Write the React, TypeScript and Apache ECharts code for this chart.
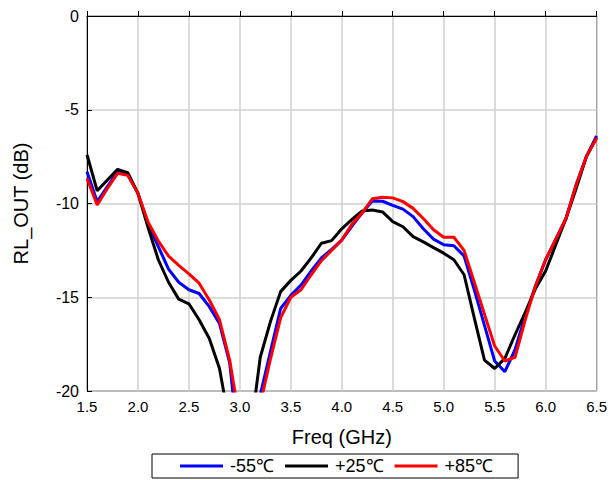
import React, { useEffect, useRef } from "react";
import * as echarts from "echarts";

const freq = [1.5, 1.6, 1.7, 1.8, 1.9, 2.0, 2.1, 2.2, 2.3, 2.4, 2.5, 2.6, 2.7, 2.8, 2.9, 3.0, 3.1, 3.2, 3.3, 3.4, 3.5, 3.6, 3.7, 3.8, 3.9, 4.0, 4.1, 4.2, 4.3, 4.4, 4.5, 4.6, 4.7, 4.8, 4.9, 5.0, 5.1, 5.2, 5.3, 5.4, 5.5, 5.6, 5.7, 5.8, 5.9, 6.0, 6.1, 6.2, 6.3, 6.4, 6.5];

const rlM55 = [-8.3, -9.9, -9.1, -8.3, -8.45, -9.46, -11.1, -12.3, -13.5, -14.2, -14.6, -14.8, -15.5, -16.4, -18.5, -23.5, -23.0, -20.2, -17.9, -15.6, -14.9, -14.35, -13.6, -12.9, -12.45, -11.95, -11.2, -10.5, -9.87, -9.88, -10.1, -10.3, -10.7, -11.35, -11.9, -12.2, -12.25, -12.8, -14.6, -16.5, -18.4, -18.97, -17.8, -16.0, -14.4, -13.0, -11.9, -10.8, -9.0, -7.5, -6.4];

const rlP25 = [-7.4, -9.32, -8.75, -8.18, -8.36, -9.46, -11.3, -13.0, -14.2, -15.1, -15.35, -16.2, -17.2, -18.8, -21.8, -24.0, -22.4, -18.2, -16.3, -14.7, -14.1, -13.6, -12.9, -12.12, -11.98, -11.35, -10.85, -10.4, -10.35, -10.45, -10.97, -11.24, -11.77, -12.05, -12.35, -12.65, -13.0, -13.8, -16.1, -18.35, -18.8, -18.26, -17.0, -15.8, -14.55, -13.6, -12.2, -10.8, -9.2, -7.5, -6.5];

const rlP85 = [-8.66, -10.08, -9.2, -8.39, -8.5, -9.46, -11.0, -12.0, -12.8, -13.3, -13.75, -14.25, -15.15, -16.2, -18.35, -21.65, -23.0, -20.7, -18.3, -16.1, -15.0, -14.6, -13.8, -13.05, -12.5, -11.95, -11.1, -10.5, -9.75, -9.67, -9.7, -9.9, -10.26, -10.8, -11.4, -11.8, -11.8, -12.5, -14.2, -15.9, -17.6, -18.4, -18.2, -16.2, -14.4, -13.0, -11.9, -10.8, -9.0, -7.5, -6.5];

const seriesNames = ["-55℃", "+25℃", "+85℃"];
const seriesColors = ["#0000ff", "#000000", "#ff0000"];
const seriesValues = [rlM55, rlP25, rlP85];

const FONT = "Liberation Sans, Arial, sans-serif";

export default function App() {
  const ref = useRef<HTMLDivElement>(null);
  useEffect(() => {
    if (!ref.current) return;
    const chart = echarts.init(ref.current, null, { renderer: "svg" });
    chart.setOption({
      animation: false,
      backgroundColor: "#ffffff",
      textStyle: { fontFamily: FONT },
      grid: {
        left: 87,
        right: 13,
        top: 16,
        bottom: 89,
        show: true,
        borderColor: "#000",
        borderWidth: 1,
        backgroundColor: "transparent",
      },
      legend: {
        data: seriesNames,
        left: 152,
        top: 454,
        orient: "horizontal",
        icon: "rect",
        itemWidth: 43,
        itemHeight: 3,
        itemGap: 11,
        padding: [3, 25, 3, 28],
        borderColor: "#000",
        borderWidth: 1,
        textStyle: { fontSize: 18, color: "#000", fontFamily: FONT, padding: [0, 0, 0, 2] },
      },
      xAxis: {
        type: "value",
        min: 1.5,
        max: 6.5,
        interval: 0.5,
        name: "Freq (GHz)",
        nameLocation: "middle",
        nameGap: 36,
        nameTextStyle: { fontSize: 20, color: "#000", fontFamily: FONT },
        axisLine: { show: true, lineStyle: { color: "#000", width: 1 } },
        axisTick: { show: true, inside: true, length: 5, lineStyle: { color: "#000" } },
        axisLabel: {
          fontSize: 15,
          color: "#000",
          margin: 8,
          formatter: (v: number) => v.toFixed(1),
        },
        splitLine: { show: true, lineStyle: { color: "#d0d0d0", width: 1.5 } },
      },
      yAxis: {
        type: "value",
        min: -20,
        max: 0,
        interval: 5,
        name: "RL_OUT (dB)",
        nameLocation: "middle",
        nameGap: 56,
        nameTextStyle: { fontSize: 20, color: "#000", fontFamily: FONT },
        axisLine: { show: true, lineStyle: { color: "#000", width: 1 } },
        axisTick: { show: true, inside: true, length: 5, lineStyle: { color: "#000" } },
        axisLabel: { fontSize: 16, color: "#000", margin: 8 },
        splitLine: { show: true, lineStyle: { color: "#d0d0d0", width: 1.5 } },
      },
      series: seriesNames.map((name, i) => ({
        name,
        type: "line",
        data: freq.map((f, j) => [f, seriesValues[i][j]]),
        symbol: "none",
        showSymbol: false,
        clip: true,
        lineStyle: { color: seriesColors[i], width: 3 },
        itemStyle: { color: seriesColors[i] },
      })),
    });
    return () => chart.dispose();
  }, []);
  return <div ref={ref} style={{ width: 610, height: 480, position: "absolute", left: 0, top: 0 }} />;
}
